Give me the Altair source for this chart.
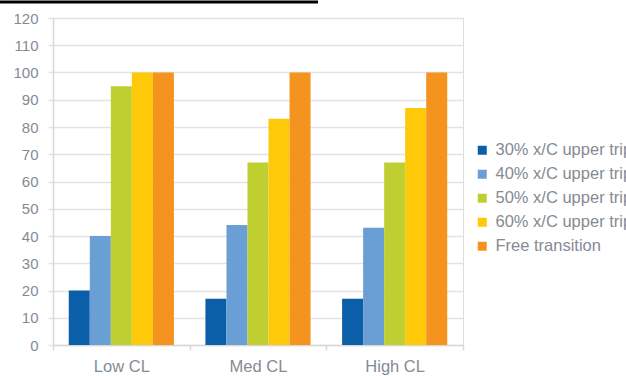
import altair as alt
import pandas as pd

# Chord-load levels and the share (%) for each trip configuration
categories = ["Low CL", "Med CL", "High CL"]
series = [
    "30% x/C upper trip",
    "40% x/C upper trip",
    "50% x/C upper trip",
    "60% x/C upper trip",
    "Free transition",
]
values_30 = [20, 17, 17]
values_40 = [40, 44, 43]
values_50 = [95, 67, 67]
values_60 = [100, 83, 87]
values_free = [100, 100, 100]
y_ticks = list(range(0, 121, 10))
colors = ["#0b5ea8", "#6a9fd6", "#bfcf32", "#fec908", "#f5931f"]

rows = []
for name, vals in zip(series, [values_30, values_40, values_50, values_60, values_free]):
    for cat, v in zip(categories, vals):
        rows.append({"category": cat, "series": name, "value": v})
df = pd.DataFrame(rows)

label_color = "#858a95"
grid_color = "#e3e3e3"
font = "Liberation Sans"

bars = alt.Chart(df).mark_bar().encode(
    x=alt.X(
        "category:N",
        sort=categories,
        title=None,
        scale=alt.Scale(paddingInner=0, paddingOuter=0),
        axis=alt.Axis(
            tickBand="extent",
            labelAngle=0,
            labelFontSize=16.5,
            labelColor=label_color,
            labelFont=font,
            labelPadding=8,
            tickSize=5,
            tickColor="#d8d8d8",
            domainColor="#d8d8d8",
            domainWidth=1.5,
            tickWidth=1.5,
            grid=False,
        ),
    ),
    xOffset=alt.XOffset(
        "series:N",
        sort=series,
        scale=alt.Scale(paddingInner=0, paddingOuter=0.75),
    ),
    y=alt.Y(
        "value:Q",
        title=None,
        scale=alt.Scale(domain=[0, 120], nice=False),
        axis=alt.Axis(
            values=y_ticks,
            labelFontSize=15,
            labelColor=label_color,
            labelFont=font,
            labelPadding=10,
            tickSize=5,
            tickColor=grid_color,
            tickWidth=1.5,
            gridColor=grid_color,
            gridWidth=1.5,
            domainColor="#d8d8d8",
            domainWidth=1.5,
        ),
    ),
    color=alt.Color(
        "series:N",
        sort=series,
        scale=alt.Scale(domain=series, range=colors),
        legend=alt.Legend(
            title=None,
            orient="none",
            legendX=421,
            legendY=124,
            symbolType="square",
            symbolSize=81,
            symbolStrokeWidth=0,
            labelFontSize=16.5,
            labelColor=label_color,
            labelFont=font,
            labelOffset=5,
            rowPadding=7,
            labelLimit=400,
        ),
    ),
)

# Heading underline running along the top edge
underline = alt.Chart(pd.DataFrame({"k": [0]})).mark_rule(
    color="black", strokeWidth=3
).encode(x=alt.value(-53), x2=alt.value(265), y=alt.value(-16))

chart = (
    alt.layer(bars, underline)
    .properties(
        width=410,
        height=327,
        autosize=alt.AutoSizeParams(type="none"),
        padding={"left": 53, "top": 18, "right": 163, "bottom": 31},
    )
    .configure_view(stroke=None)
    .configure(background="white")
)

chart.save("out.html", embed_options={"renderer": "svg", "actions": False})
